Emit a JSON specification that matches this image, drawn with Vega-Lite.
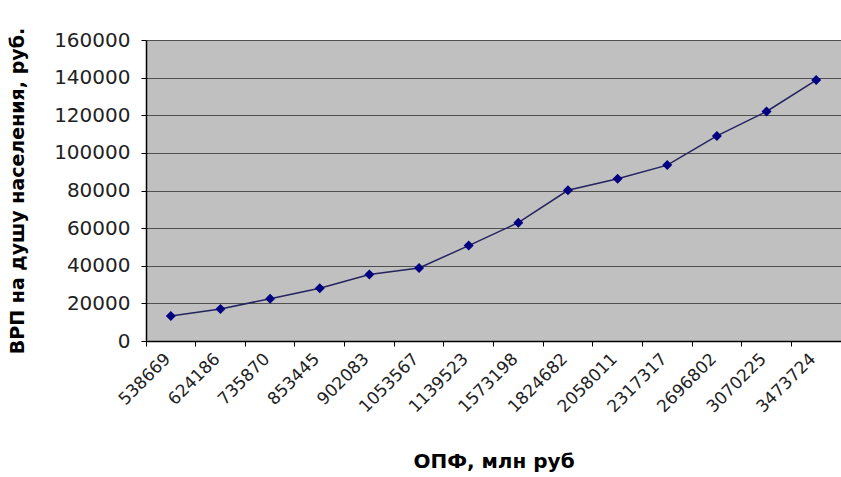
{
  "$schema": "https://vega.github.io/schema/vega-lite/v6.json",
  "autosize": {"type": "none"},
  "padding": {"left": 146, "top": 40, "right": 0, "bottom": 136},
  "width": 695,
  "height": 301,
  "background": "white",
  "config": {
    "view": {"fill": "#C0C0C0", "stroke": null},
    "font": "DejaVu Sans"
  },
  "data": {
    "values": [
      {"opf": "538669", "vrp": 13300},
      {"opf": "624186", "vrp": 17000},
      {"opf": "735870", "vrp": 22500},
      {"opf": "853445", "vrp": 28000},
      {"opf": "902083", "vrp": 35400},
      {"opf": "1053567", "vrp": 38800},
      {"opf": "1139523", "vrp": 50700},
      {"opf": "1573198", "vrp": 62900},
      {"opf": "1824682", "vrp": 80100},
      {"opf": "2058011", "vrp": 86300},
      {"opf": "2317317", "vrp": 93500},
      {"opf": "2696802", "vrp": 109000},
      {"opf": "3070225", "vrp": 122000},
      {"opf": "3473724", "vrp": 138700}
    ]
  },
  "encoding": {
    "x": {
      "field": "opf",
      "type": "ordinal",
      "sort": null,
      "scale": {"type": "band", "paddingInner": 0, "paddingOuter": 0},
      "axis": {
        "title": "ОПФ, млн руб",
        "titleFontSize": 20,
        "titleFontWeight": "bold",
        "titleColor": "black",
        "titlePadding": 36,
        "bandPosition": 0,
        "labelOffset": -3,
        "labelAngle": -45,
        "labelAlign": "right",
        "labelBaseline": "middle",
        "labelFontSize": 17,
        "labelColor": "#222",
        "labelPadding": 10,
        "tickSize": 5,
        "tickColor": "black",
        "domainColor": "black",
        "domainWidth": 1.5,
        "grid": false
      }
    },
    "y": {
      "field": "vrp",
      "type": "quantitative",
      "scale": {"domain": [0, 160000], "nice": false},
      "axis": {
        "title": "ВРП на душу населения, руб.",
        "titleFontSize": 19,
        "titleFontWeight": "bold",
        "titleColor": "black",
        "titlePadding": 26,
        "values": [0, 20000, 40000, 60000, 80000, 100000, 120000, 140000, 160000],
        "format": "d",
        "labelFontSize": 20,
        "labelColor": "#222",
        "labelPadding": 11,
        "tickSize": 5,
        "tickColor": "black",
        "domainColor": "black",
        "domainWidth": 1.5,
        "grid": true,
        "gridColor": "#505050",
        "gridWidth": 1.2
      }
    }
  },
  "layer": [
    {"mark": {"type": "line", "color": "#23235e", "strokeWidth": 1.5}},
    {"mark": {"type": "point", "shape": "diamond", "filled": true, "color": "#000080", "size": 100, "opacity": 1}}
  ]
}
